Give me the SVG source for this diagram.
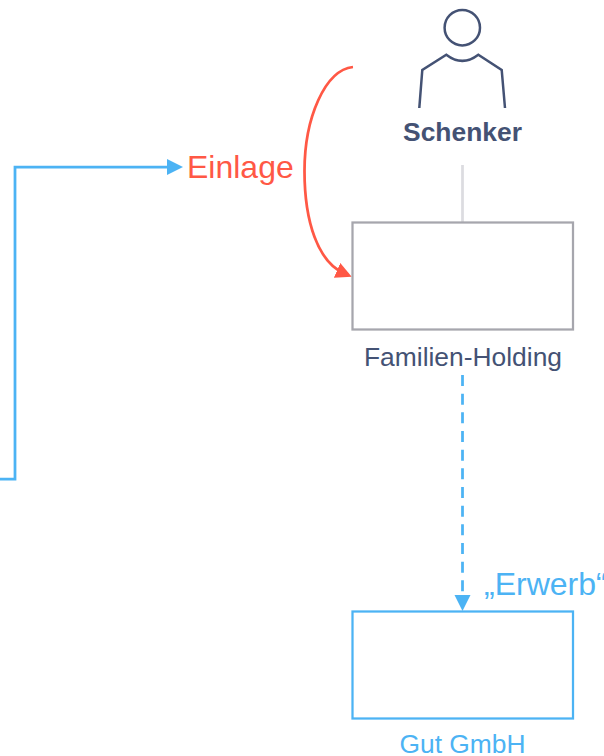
<svg xmlns="http://www.w3.org/2000/svg" width="604" height="756" viewBox="0 0 604 756">
<style>
text{font-family:"Liberation Sans",Arial,sans-serif}
.box{fill:#fff;stroke-width:2.25}
.icon{fill:none;stroke:#445274;stroke-width:2.5}
.con{fill:none;stroke-width:2.75}
</style>
<defs>
<marker id="ab" markerUnits="userSpaceOnUse" markerWidth="18" markerHeight="18" refX="8" refY="8" orient="auto"><path d="M0 0L16 8L0 16Z" fill="#4cb3f4"/></marker>
<marker id="ar" markerUnits="userSpaceOnUse" markerWidth="18" markerHeight="18" refX="8" refY="8" orient="auto"><path d="M0 0L16 8L0 16Z" fill="#ff5845"/></marker>
</defs>
<rect width="604" height="756" fill="#fff"/>
<g id="connectors">
<path class="con" d="M0 479H15V167H175" stroke="#4cb3f4" marker-end="url(#ab)"/>
<path class="con" d="M353 67C325 70 304.500 118 304.500 171C304.500 222 318 262 344.400 273.500" stroke="#ff5845" marker-end="url(#ar)"/>
<path class="con" d="M462.500 165V222" stroke="#dcdce0"/>
<path class="con" d="M462.500 375V603" stroke="#4cb3f4" stroke-dasharray="11 7.670" marker-end="url(#ab)"/>
</g>
<g id="schenker">
<circle class="icon" cx="462.300" cy="27.700" r="17.700"/>
<path class="icon" d="M419.300 108L422.300 70L446.300 54.700Q462.300 67 478.300 54.700L501.700 70L505 108"/>
<text x="462.500" y="141" text-anchor="middle" font-size="26.400" font-weight="700" fill="#445274">Schenker</text>
</g>
<g id="familien-holding">
<rect class="box" x="352.500" y="222.500" width="220.500" height="107" stroke="#a6a6ad"/>
<text x="463" y="366" text-anchor="middle" font-size="26.400" fill="#445274">Familien-Holding</text>
</g>
<g id="gut-gmbh">
<rect class="box" x="352.500" y="611.500" width="220.500" height="107" stroke="#4cb3f4"/>
<text x="462.500" y="753" text-anchor="middle" font-size="26.400" fill="#4cb3f4">Gut GmbH</text>
</g>
<g id="labels">
<text x="187" y="178" font-size="32" fill="#ff5845">Einlage</text>
<text x="484" y="595" font-size="32" fill="#4cb3f4">„Erwerb“</text>
</g>
</svg>
